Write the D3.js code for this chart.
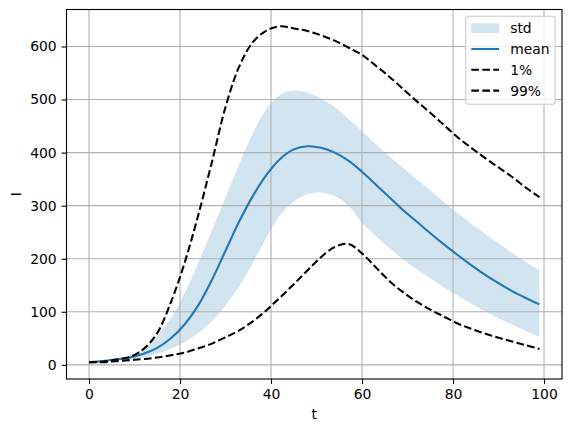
<!DOCTYPE html>
<html>
<head>
<meta charset="utf-8">
<script src="https://cdn.jsdelivr.net/npm/d3@7"></script>
<style>
  body { margin: 0; background: #fff; }
  text { font-family: "DejaVu Sans", sans-serif; font-size: 13.9px; fill: #000; }
</style>
</head>
<body>
<svg id="chart" width="571" height="432"></svg>
<script>
// values
const t = [0, 3, 6, 9, 12, 15, 18, 21, 24, 27, 30, 33, 36, 39, 42, 45, 48, 51, 54, 57,
  60, 63, 66, 69, 72, 75, 78, 81, 84, 87, 90, 93, 96, 99];
const mean = [5, 7, 10, 14, 21, 32, 50, 76, 112, 160, 215, 270, 318, 358, 388, 406, 412, 409, 400, 385,
  364, 340, 316, 292, 270, 248, 227, 207, 188, 170, 154, 139, 126, 114];
const stdHigh = [5, 8, 12, 19, 32, 55, 88, 135, 192, 253, 316, 378, 436, 482, 509, 517, 513, 502, 486, 464,
  440, 416, 393, 371, 350, 329, 307, 286, 266, 247, 229, 211, 194, 178];
const stdLow = [5, 6, 8, 11, 15, 21, 30, 43, 60, 82, 112, 148, 192, 240, 282, 308, 321, 325, 318, 300,
  268, 243, 220, 199, 180, 163, 146, 130, 115, 101, 88, 76, 64, 53];
const p1 = [5, 5, 7, 9, 11, 14, 18, 23, 31, 40, 52, 65, 82, 103, 127, 152, 178, 203, 222, 228,
  210, 184, 158, 137, 119, 104, 91, 78, 68, 59, 51, 44, 37, 30];
const p99 = [5, 6, 10, 15, 30, 60, 118, 192, 282, 382, 486, 562, 608, 630, 638, 634, 629, 621, 611, 598,
  584, 564, 543, 520, 497, 475, 452, 429, 409, 390, 372, 354, 334, 316];

const xTicks = [0, 20, 40, 60, 80, 100];
const yTicks = [0, 100, 200, 300, 400, 500, 600];
const legendLabels = ['std', 'mean', '1%', '99%'];

const svg = d3.select('#chart');
const axL = 66.5, axR = 562, axT = 9.5, axB = 379;

// matplotlib style 5% margins
const xMin = d3.min(t), xMax = d3.max(t);
const xPad = (xMax - xMin) * 0.05;
const x = d3.scaleLinear().domain([xMin - xPad, xMax + xPad]).range([axL, axR]);

const allY = [].concat(stdLow, stdHigh, p1, p99, mean);
const yMin = d3.min(allY), yMax = d3.max(allY);
const yPad = (yMax - yMin) * 0.05;
const y = d3.scaleLinear().domain([yMin - yPad, yMax + yPad]).range([axB, axT]);

const rows = t.map(function (d, i) {
  return { t: d, mean: mean[i], lo: stdLow[i], hi: stdHigh[i], p1: p1[i], p99: p99[i] };
});

const blue = '#1f77b4';
const curve = d3.curveCatmullRom.alpha(0.5);

// std band (below the grid, like fill_between)
svg.append('path')
  .datum(rows)
  .attr('fill', blue)
  .attr('fill-opacity', 0.2)
  .attr('d', d3.area()
    .curve(curve)
    .x(function (d) { return x(d.t); })
    .y0(function (d) { return y(d.lo); })
    .y1(function (d) { return y(d.hi); }));

// grid
const grid = svg.append('g').attr('stroke', '#b0b0b0').attr('stroke-width', 1.1);
grid.selectAll('.gx').data(xTicks).enter().append('line')
  .attr('x1', function (d) { return x(d); })
  .attr('x2', function (d) { return x(d); })
  .attr('y1', axT).attr('y2', axB);
grid.selectAll('.gy').data(yTicks).enter().append('line')
  .attr('y1', function (d) { return y(d); })
  .attr('y2', function (d) { return y(d); })
  .attr('x1', axL).attr('x2', axR);

function line (key) {
  return d3.line()
    .curve(curve)
    .x(function (d) { return x(d.t); })
    .y(function (d) { return y(d[key]); });
}

svg.append('path').datum(rows)
  .attr('fill', 'none').attr('stroke', blue).attr('stroke-width', 2.08)
  .attr('d', line('mean'));

['p1', 'p99'].forEach(function (k) {
  svg.append('path').datum(rows)
    .attr('fill', 'none').attr('stroke', '#000').attr('stroke-width', 2.08)
    .attr('stroke-dasharray', '7.7,3.3')
    .attr('d', line(k));
});

// axes
const xAxis = svg.append('g')
  .attr('transform', 'translate(0,' + axB + ')')
  .call(d3.axisBottom(x).tickValues(xTicks).tickSize(4.9).tickPadding(4.9).tickFormat(d3.format('d')));
const yAxis = svg.append('g')
  .attr('transform', 'translate(' + axL + ',0)')
  .call(d3.axisLeft(y).tickValues(yTicks).tickSize(4.9).tickPadding(4.9).tickFormat(d3.format('d')));
[xAxis, yAxis].forEach(function (a) {
  a.attr('font-size', null).attr('font-family', null);
  a.select('.domain').remove();
  a.selectAll('.tick line').attr('stroke', '#000').attr('stroke-width', 1.1);
  a.selectAll('.tick text').attr('fill', '#000');
});

// spines
svg.append('rect')
  .attr('x', axL).attr('y', axT)
  .attr('width', axR - axL).attr('height', axB - axT)
  .attr('fill', 'none').attr('stroke', '#000').attr('stroke-width', 1.1);

// axis labels
svg.append('text')
  .attr('x', (axL + axR) / 2).attr('y', 419)
  .attr('text-anchor', 'middle')
  .text('t');
svg.append('text')
  .attr('transform', 'translate(21,' + ((axT + axB) / 2) + ') rotate(-90)')
  .attr('text-anchor', 'middle')
  .text('I');

// legend
const lg = svg.append('g').attr('transform', 'translate(465.7,16.2)');
lg.append('rect')
  .attr('width', 89.4).attr('height', 88)
  .attr('rx', 2.8).attr('ry', 2.8)
  .attr('fill', '#fff').attr('fill-opacity', 0.8)
  .attr('stroke', '#cccccc').attr('stroke-width', 1.1);

const items = lg.selectAll('.item').data(legendLabels).enter().append('g')
  .attr('transform', function (d, i) { return 'translate(5.6,' + (12 + i * 20.8) + ')'; });

items.each(function (d, i) {
  const g = d3.select(this);
  if (i === 0) {
    g.append('rect')
      .attr('x', 0).attr('y', -4.9)
      .attr('width', 27.8).attr('height', 9.7)
      .attr('fill', blue).attr('fill-opacity', 0.2);
  } else {
    g.append('line')
      .attr('x1', 0).attr('x2', 27.8)
      .attr('stroke', i === 1 ? blue : '#000')
      .attr('stroke-width', 2.08)
      .attr('stroke-dasharray', i === 1 ? null : '7.7,3.3');
  }
  g.append('text')
    .attr('x', 38.9).attr('y', 5)
    .text(d);
});
</script>
</body>
</html>
